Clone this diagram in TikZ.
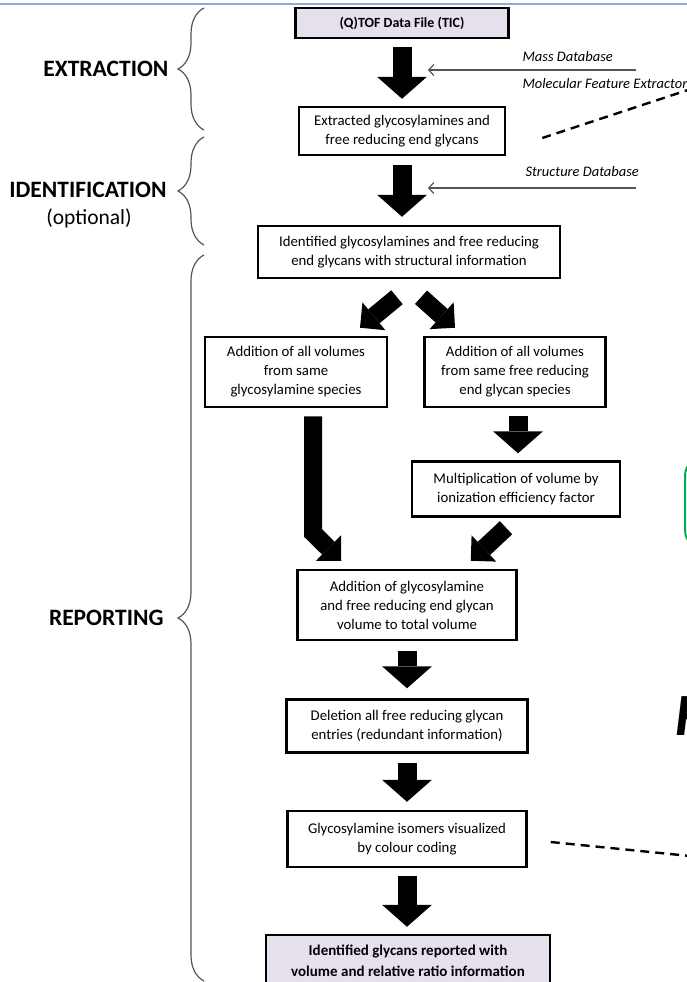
\documentclass[tikz,border=0pt]{standalone}
\usepackage{fontspec}
\setmainfont{Carlito}
\usepackage{tikz}
\usetikzlibrary{arrows.meta,decorations.pathreplacing,calc}

\definecolor{lavender}{RGB}{229,224,236}
\definecolor{topblue}{RGB}{142,170,219}
\definecolor{bracegray}{RGB}{85,85,85}
\definecolor{slidegreen}{RGB}{0,176,80}

\tikzset{
  stepbox/.style={draw,line width=2.5pt,align=center,inner sep=2pt,font=\fontsize{14.8}{19}\selectfont},
  bigarrow/.style={line width=19pt,-{Triangle[width=50pt,length=22pt,line width=0pt]}},
  diagarrow/.style={line width=18pt,line join=miter,-{Triangle[width=36pt,length=18pt,line width=0pt]}},
  dbarrow/.style={draw=bracegray,line width=1.2pt,-{Straight Barb[length=5pt,width=11pt]}},
  phasebrace/.style={draw=bracegray,line width=1.2pt,decorate,decoration={brace,amplitude=26pt}},
  phaselabel/.style={anchor=east,font=\fontsize{23.5}{26}\selectfont\bfseries},
  dbtext/.style={anchor=west,font=\fontsize{14.5}{16}\selectfont\itshape},
  linkline/.style={line width=2.4pt,dash pattern=on 9pt off 6pt},
}

\begin{document}
\begin{tikzpicture}[x=1pt,y=-1pt]
\useasboundingbox (0,0) rectangle (687,982);
\draw[topblue,line width=1.5pt] (0,4) -- (687,4);

\node[stepbox,fill=lavender,minimum width=213pt,minimum height=30pt,
  font=\fontsize{14}{16}\selectfont\bfseries] (tof) at (402,23) {(Q)TOF Data File (TIC)};
\node[stepbox,minimum width=206pt,minimum height=48pt] (extr) at (402,131)
  {Extracted glycosylamines and\\free reducing end glycans};
\node[stepbox,minimum width=302pt,minimum height=52pt] (ident) at (409,252)
  {Identified glycosylamines and free reducing\\end glycans with structural information};
\node[stepbox,minimum width=182pt,minimum height=70pt] (volgl) at (296,372)
  {Addition of all volumes\\from same\\glycosylamine species};
\node[stepbox,minimum width=181pt,minimum height=70pt] (volfr) at (515,372)
  {Addition of all volumes\\from same free reducing\\end glycan species};
\node[stepbox,minimum width=208pt,minimum height=55pt] (ionf) at (516,489)
  {Multiplication of volume by\\ionization efficiency factor};
\node[stepbox,minimum width=219pt,minimum height=70pt] (total) at (407,605)
  {Addition of glycosylamine\\and free reducing end glycan\\volume to total volume};
\node[stepbox,minimum width=241pt,minimum height=53pt] (del) at (407,726)
  {Deletion all free reducing glycan\\entries (redundant information)};
\node[stepbox,minimum width=239pt,minimum height=56pt] (iso) at (407,839)
  {Glycosylamine isomers visualized\\by colour coding};
\node[stepbox,fill=lavender,minimum width=284pt,minimum height=52pt,
  font=\fontsize{15}{21}\selectfont\bfseries] (report) at (408,961)
  {Identified glycans reported with\\volume and relative ratio information};

\draw[bigarrow] ([yshift=-8pt]tof.south) -- ([yshift=7pt]tof.south |- extr.north);
\draw[bigarrow] ([yshift=-9pt]extr.south) -- ([yshift=8pt]extr.south |- ident.north);
\draw[diagarrow] ([xshift=-12pt,yshift=-18pt]ident.south) -- ([xshift=64pt,yshift=8pt]volgl.north);
\draw[diagarrow] ([xshift=12pt,yshift=-18pt]ident.south) -- ([xshift=-60pt,yshift=8pt]volfr.north);
\draw[bigarrow] ([xshift=3pt,yshift=-8pt]volfr.south) -- ([xshift=3pt,yshift=7pt]volfr.south |- ionf.north);
\coordinate (bend) at (313,533);
\draw[diagarrow] ([xshift=17pt,yshift=-8pt]volgl.south) -- (bend) -- ([xshift=45pt,yshift=8pt]total.north west);
\draw[diagarrow] ([xshift=-10pt,yshift=-10pt]ionf.south) -- ([xshift=-47pt,yshift=8pt]total.north east);
\draw[bigarrow] ([yshift=-10pt]total.south) -- ([yshift=10pt]total.south |- del.north);
\draw[bigarrow] ([yshift=-9pt]del.south) -- ([yshift=8pt]del.south |- iso.north);
\draw[bigarrow] ([yshift=-8pt]iso.south) -- ([yshift=7pt]iso.south |- report.north);

% databases
\node[dbtext] (massdb) at (519,57) {Mass Database};
\node[dbtext] (mfe) at (519,84) {Molecular Feature Extractor};
\node[dbtext] (structdb) at (522,172) {Structure Database};
\coordinate (massin) at (636,70);
\coordinate (structin) at (636,188);
\draw[dbarrow] (massin) -- (massin -| {$(tof.south)+(26,0)$});
\draw[dbarrow] (structin) -- (structin -| {$(extr.south)+(26,0)$});

% links to the right
\coordinate (extrlink) at (700,86);
\coordinate (isolink) at (700,857);
\draw[linkline] ([xshift=36pt,yshift=-7pt]extr.east) -- (extrlink);
\draw[linkline] ([xshift=23pt,yshift=-3pt]iso.east) -- (isolink);

% phases
\draw[phasebrace] (204,130) -- (204,8);
\draw[phasebrace] (204,245) -- (204,137);
\draw[phasebrace] (204,981) -- (204,255);
\node[phaselabel] (extraction) at (172,69) {EXTRACTION};
\node[phaselabel] (identification) at (170,190) {IDENTIFICATION};
\node[font=\fontsize{21.5}{24}\selectfont] (optional) at (89,218) {(optional)};
\node[phaselabel] (reporting) at (167,618) {REPORTING};

\draw[slidegreen,line width=2pt,rounded corners=20pt] (685,456) rectangle (800,550);
\node[anchor=base west,font=\fontsize{60}{60}\selectfont\bfseries\itshape] (cutletter) at (672,735) {F};

\end{tikzpicture}
\end{document}
